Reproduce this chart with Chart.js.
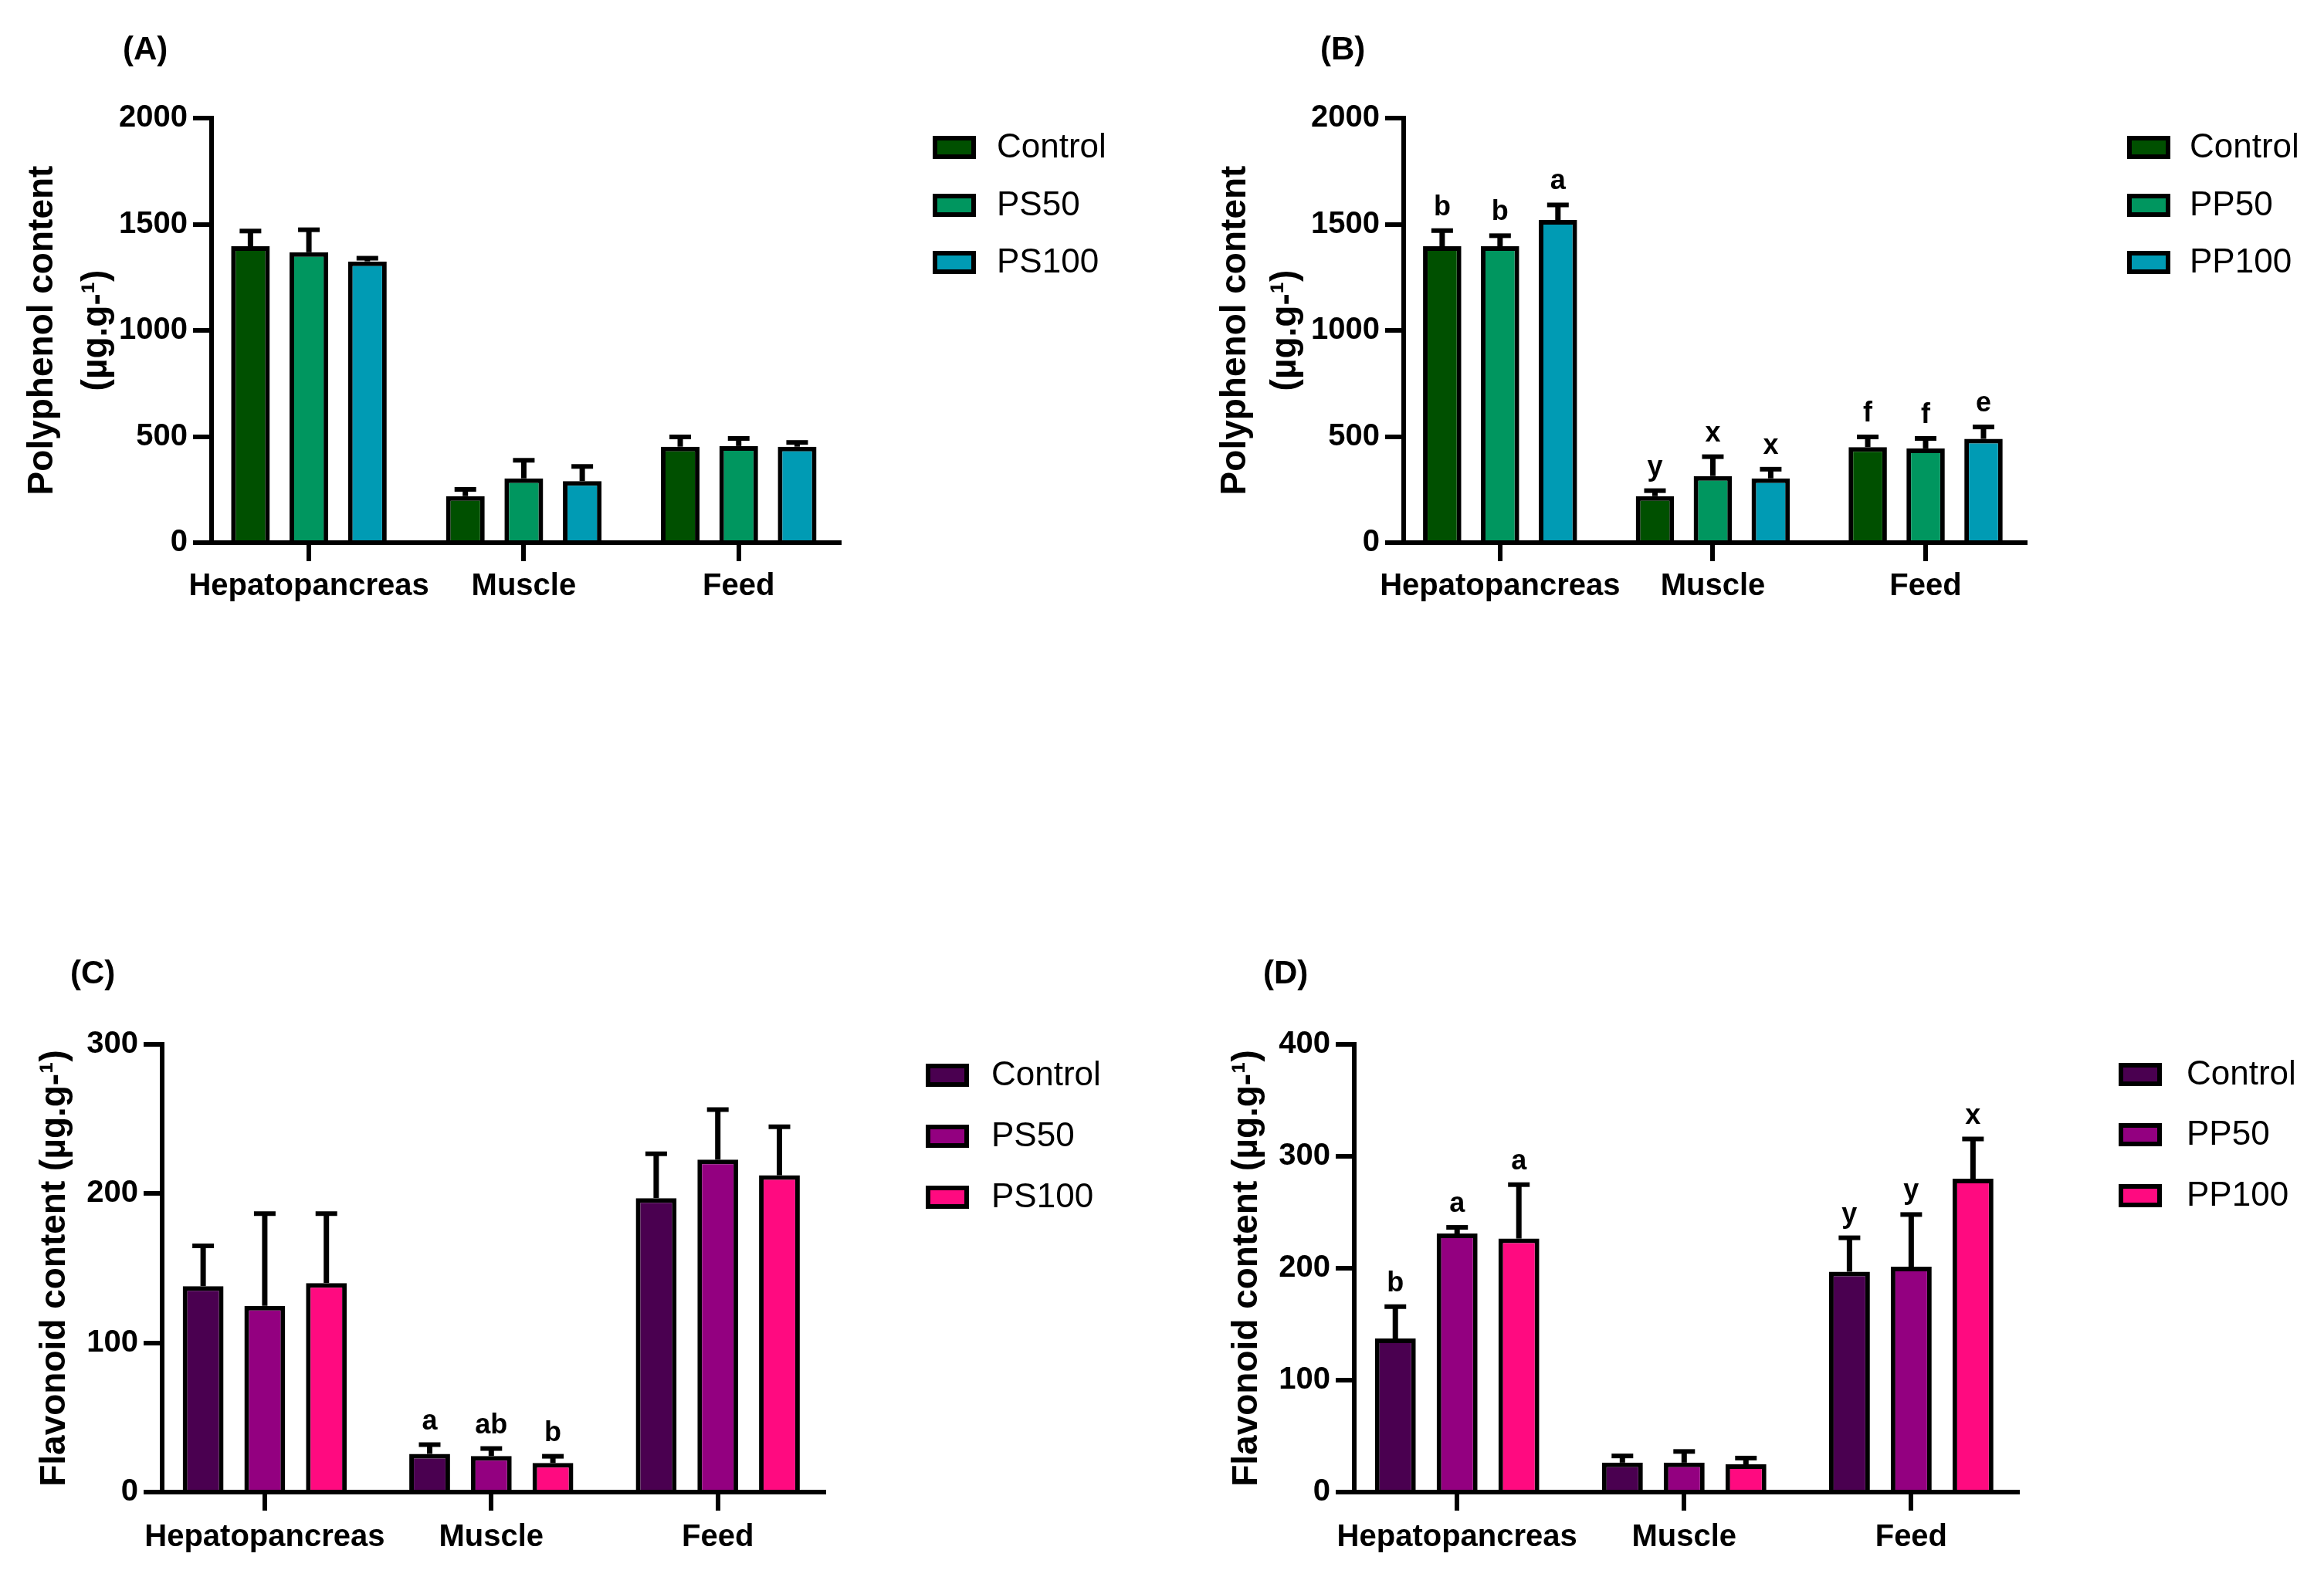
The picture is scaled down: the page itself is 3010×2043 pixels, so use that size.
<!DOCTYPE html>
<html>
<head>
<meta charset="utf-8">
<script src="https://cdn.jsdelivr.net/npm/chart.js@4.4.1/dist/chart.umd.min.js"></script>
<style>
    body { margin: 0; background: #fff; width: 3010px; height: 2043px; position: relative; }
    canvas { position: absolute; }
</style>
</head>
<body>
<canvas id="chartA" width="1505" height="1021" style="left:0px;top:0px"></canvas>
<canvas id="chartB" width="1505" height="1021" style="left:1505px;top:0px"></canvas>
<canvas id="chartC" width="1505" height="1022" style="left:0px;top:1021px"></canvas>
<canvas id="chartD" width="1505" height="1022" style="left:1505px;top:1021px"></canvas>
<script>
var tissues = ['Hepatopancreas', 'Muscle', 'Feed'];

// (A) polyphenol, PS
var aLabels = ['Control', 'PS50', 'PS100'];
var aControl = [1396, 219, 452];
var aControlSd = [72, 32, 46];
var aPS50 = [1368, 303, 455];
var aPS50Sd = [106, 85, 36];
var aPS100 = [1325, 290, 452];
var aPS100Sd = [15, 69, 20];

// (B) polyphenol, PP
var bLabels = ['Control', 'PP50', 'PP100'];
var bControl = [1396, 219, 450];
var bControlSd = [74, 26, 48];
var bPP50 = [1396, 314, 444];
var bPP50Sd = [50, 91, 47];
var bPP100 = [1520, 303, 489];
var bPP100Sd = [71, 43, 56];
var bControlLetters = ['b', 'y', 'f'];
var bPP50Letters = ['b', 'x', 'f'];
var bPP100Letters = ['a', 'x', 'e'];

// (C) flavonoid, PS
var cLabels = ['Control', 'PS50', 'PS100'];
var cControl = [138, 25.6, 197];
var cControlSd = [27, 6.2, 29.7];
var cPS50 = [124.8, 24.2, 222.8];
var cPS50Sd = [61.8, 5, 33.5];
var cPS100 = [140.1, 19.5, 212.3];
var cPS100Sd = [46.5, 4.5, 32.5];
var cControlLetters = ['', 'a', ''];
var cPS50Letters = ['', 'ab', ''];
var cPS100Letters = ['', 'b', ''];

// (D) flavonoid, PP
var dLabels = ['Control', 'PP50', 'PP100'];
var dControl = [137.2, 26.3, 196.9];
var dControlSd = [28.5, 6, 30.3];
var dPP50 = [231, 26.3, 201.3];
var dPP50Sd = [5.5, 10, 46.7];
var dPP100 = [226.5, 24.8, 280];
var dPP100Sd = [48.2, 5.6, 35.5];
var dControlLetters = ['b', '', 'y'];
var dPP50Letters = ['a', '', 'y'];
var dPP100Letters = ['a', '', 'x'];

var polyTicks = [0, 500, 1000, 1500, 2000];
var flavCTicks = [0, 100, 200, 300];
var flavDTicks = [0, 100, 200, 300, 400];

var greens = ['#005000', '#00965f', '#009bb4'];
var purples = ['#4a0050', '#930080', '#ff0a80'];

var FONT = "'Liberation Sans', Arial, sans-serif";

// error bars, letters, legend and panel tag
var panelDeco = {
    id: 'panelDeco',
    afterDatasetsDraw: function (chart) {
        var ctx = chart.ctx;
        var yScale = chart.scales.y;
        ctx.save();
        chart.data.datasets.forEach(function (ds, i) {
            var meta = chart.getDatasetMeta(i);
            meta.data.forEach(function (bar, j) {
                var top = yScale.getPixelForValue(ds.data[j] + ds.sd[j]);
                ctx.strokeStyle = '#000';
                ctx.lineWidth = 7;
                ctx.beginPath();
                ctx.moveTo(bar.x, bar.y);
                ctx.lineTo(bar.x, top);
                ctx.stroke();
                ctx.lineWidth = 6;
                ctx.beginPath();
                ctx.moveTo(bar.x - 14, top);
                ctx.lineTo(bar.x + 14, top);
                ctx.stroke();
                if (ds.letters && ds.letters[j]) {
                    ctx.fillStyle = '#000';
                    ctx.font = 'bold 36px ' + FONT;
                    ctx.textAlign = 'center';
                    ctx.textBaseline = 'alphabetic';
                    ctx.fillText(ds.letters[j], bar.x, top - 20);
                }
            });
        });
        ctx.restore();
    },
    afterDraw: function (chart, args, opts) {
        var ctx = chart.ctx;
        ctx.save();
        chart.data.datasets.forEach(function (ds, i) {
            var y = opts.rows[i];
            ctx.fillStyle = ds.backgroundColor;
            ctx.fillRect(opts.boxX, y - 15, 56, 30);
            ctx.strokeStyle = '#000';
            ctx.lineWidth = 6;
            ctx.strokeRect(opts.boxX + 3, y - 12, 50, 24);
            ctx.fillStyle = '#000';
            ctx.font = '44px ' + FONT;
            ctx.textAlign = 'left';
            ctx.textBaseline = 'middle';
            ctx.fillText(ds.label, opts.textX, y + 1);
        });
        ctx.font = 'bold 42px ' + FONT;
        ctx.textAlign = 'left';
        ctx.textBaseline = 'middle';
        ctx.fillText(opts.tag, opts.tagX, opts.tagY);
        ctx.restore();
    }
};

function makeSet(label, data, sd, color, letters) {
    return {
        label: label,
        data: data,
        sd: sd,
        letters: letters,
        backgroundColor: color,
        borderColor: '#000',
        borderWidth: 6,
        borderSkipped: 'start',
        categoryPercentage: 0.816,
        barPercentage: 0.662
    };
}

function makePanel(id, p) {
    var ctx = document.getElementById(id).getContext('2d');
    var W = ctx.canvas.width, H = ctx.canvas.height;
    var xH = 100;
    return new Chart(ctx, {
        type: 'bar',
        data: {
            labels: [0, 1, 2],
            datasets: p.datasets
        },
        options: {
            responsive: false,
            animation: false,
            devicePixelRatio: 1,
            layout: {
                padding: { left: 0, top: p.T, right: W - p.R, bottom: H - p.B - xH }
            },
            plugins: {
                legend: { display: false },
                tooltip: { enabled: false },
                panelDeco: p.deco
            },
            scales: {
                x: {
                    type: 'linear',
                    min: -0.453,
                    max: 2.468,
                    offset: false,
                    z: 1,
                    afterFit: function (s) { s.height = xH; },
                    grid: { display: true, offset: false, drawOnChartArea: false, drawTicks: true, tickLength: 24, color: '#000', lineWidth: 6 },
                    border: { display: true, color: '#000', width: 6 },
                    ticks: {
                        stepSize: 1,
                        includeBounds: false,
                        autoSkip: false,
                        maxRotation: 0,
                        minRotation: 0,
                        padding: p.xPad,
                        color: '#000',
                        font: { family: FONT, size: 40, weight: 'bold' },
                        callback: function (v) { return tissues[v]; }
                    }
                },
                y: {
                    min: 0,
                    max: p.max,
                    afterFit: function (s) { s.width = p.L; },
                    afterBuildTicks: function (s) { s.ticks = p.ticks.map(function (v) { return { value: v }; }); },
                    grid: { display: true, drawOnChartArea: false, drawTicks: true, tickLength: 24, color: '#000', lineWidth: 6 },
                    border: { display: true, color: '#000', width: 6 },
                    ticks: {
                        padding: 7,
                        color: '#000',
                        font: { family: FONT, size: 40, weight: 'bold' },
                        callback: function (v) { return String(v); }
                    },
                    title: {
                        display: true,
                        text: p.title,
                        color: '#000',
                        font: { family: FONT, size: 46, weight: 'bold', lineHeight: p.titleLH },
                        padding: { top: p.titlePad, bottom: 0 }
                    }
                }
            }
        },
        plugins: [panelDeco]
    });
}

makePanel('chartA', {
    L: 274, R: 1087, T: 153, B: 703, max: 2000, ticks: polyTicks, xPad: 9,
    title: ['Polyphenol content', '(\u00b5g.g-\u00b9)'], titleLH: 70 / 46, titlePad: 20,
    datasets: [
        makeSet(aLabels[0], aControl, aControlSd, greens[0], null),
        makeSet(aLabels[1], aPS50, aPS50Sd, greens[1], null),
        makeSet(aLabels[2], aPS100, aPS100Sd, greens[2], null)
    ],
    deco: { boxX: 1208, textX: 1291, rows: [191, 266, 340], tag: '(A)', tagX: 159, tagY: 65 }
});

makePanel('chartB', {
    L: 313, R: 1118, T: 153, B: 703, max: 2000, ticks: polyTicks, xPad: 9,
    title: ['Polyphenol content', '(\u00b5g.g-\u00b9)'], titleLH: 65 / 46, titlePad: 63,
    datasets: [
        makeSet(bLabels[0], bControl, bControlSd, greens[0], bControlLetters),
        makeSet(bLabels[1], bPP50, bPP50Sd, greens[1], bPP50Letters),
        makeSet(bLabels[2], bPP100, bPP100Sd, greens[2], bPP100Letters)
    ],
    deco: { boxX: 1250, textX: 1331, rows: [191, 266, 340], tag: '(B)', tagX: 205, tagY: 65 }
});

makePanel('chartC', {
    L: 210, R: 1067, T: 332, B: 912, max: 300, ticks: flavCTicks, xPad: 11,
    title: 'Flavonoid content (\u00b5g.g-\u00b9)', titleLH: 1.2, titlePad: 44,
    datasets: [
        makeSet(cLabels[0], cControl, cControlSd, purples[0], cControlLetters),
        makeSet(cLabels[1], cPS50, cPS50Sd, purples[1], cPS50Letters),
        makeSet(cLabels[2], cPS100, cPS100Sd, purples[2], cPS100Letters)
    ],
    deco: { boxX: 1199, textX: 1284, rows: [372, 451, 530], tag: '(C)', tagX: 91, tagY: 241 }
});

makePanel('chartD', {
    L: 249, R: 1108, T: 332, B: 912, max: 400, ticks: flavDTicks, xPad: 11,
    title: 'Flavonoid content (\u00b5g.g-\u00b9)', titleLH: 1.2, titlePad: 83,
    datasets: [
        makeSet(dLabels[0], dControl, dControlSd, purples[0], dControlLetters),
        makeSet(dLabels[1], dPP50, dPP50Sd, purples[1], dPP50Letters),
        makeSet(dLabels[2], dPP100, dPP100Sd, purples[2], dPP100Letters)
    ],
    deco: { boxX: 1239, textX: 1327, rows: [371, 449, 528], tag: '(D)', tagX: 131, tagY: 241 }
});
</script>
</body>
</html>
